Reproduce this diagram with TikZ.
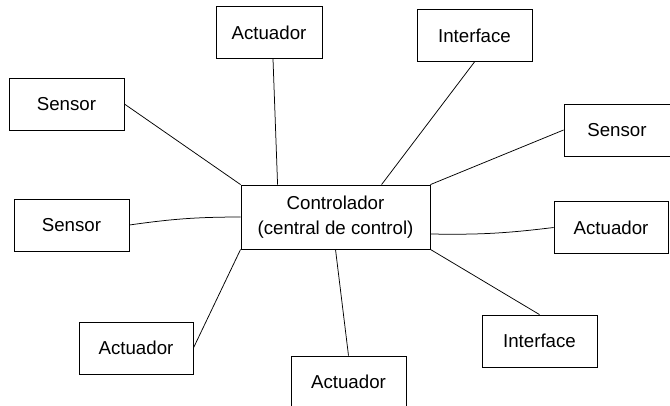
\documentclass[tikz,border=0pt]{standalone}
\usepackage{fontspec}
\setmainfont{Liberation Sans}
\usepackage{tikz}
\tikzset{
  unit/.style={draw,line width=0.85pt,minimum width=115pt,minimum height=52pt,
               font=\fontsize{18.7}{25}\selectfont,align=center,inner sep=0pt},
  ctrlbox/.style={unit,minimum width=189pt,minimum height=64pt},
  link/.style={line width=0.75pt},
}
\begin{document}
\begin{tikzpicture}[x=1pt,y=-1pt]
  \useasboundingbox (0,0) rectangle (670,405);
  \node[ctrlbox] (ctrl) at (335.5,217) {Controlador\\(central de control)};

  \node[unit,minimum width=106pt] (act1) at (269,32.5) {Actuador};
  \node[unit] (int1) at (474.5,35.5) {Interface};
  \node[unit] (sen1) at (66.5,104) {Sensor};
  \node[unit,minimum width=106pt] (sen2) at (617,130) {Sensor};
  \node[unit] (sen3) at (71.5,225) {Sensor};
  \node[unit,minimum width=114pt] (act2) at (611,227.5) {Actuador};
  \node[unit,minimum width=114pt] (act3) at (136,348) {Actuador};
  \node[unit] (act4) at (348.5,382) {Actuador};
  \node[unit] (int2) at (539.5,341) {Interface};

  \draw[link](sen1.east)--(ctrl.north west);
  \draw[link]([xshift=4pt]act1.south)--([xshift=37pt]ctrl.north west);
  \draw[link](int1.south)--([xshift=141pt]ctrl.north west);
  \draw[link](sen2.west)--(ctrl.north east);
  \draw[link](sen3.east) to[bend left=4] (ctrl.west);
  \draw[link]([yshift=-17pt]ctrl.east) to[bend right=4] (act2.west);
  \draw[link](ctrl.south west)--(act3.east);
  \draw[link](ctrl.south)--(act4.north);
  \draw[link](ctrl.south east)--(int2.north);
\end{tikzpicture}
\end{document}
